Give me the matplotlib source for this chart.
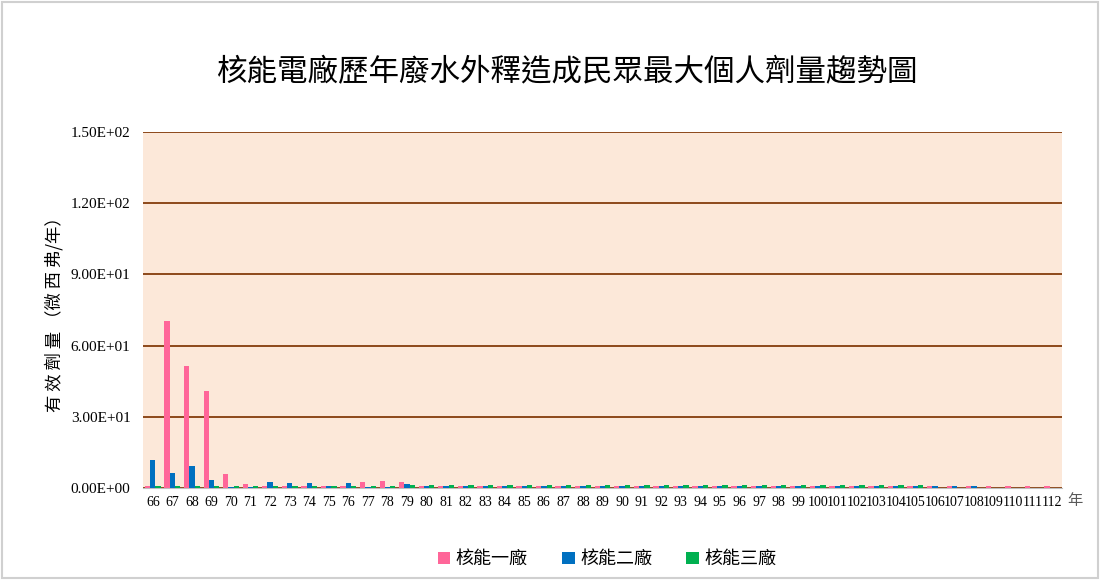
import numpy as np
import matplotlib.pyplot as plt
from matplotlib.patches import Rectangle
from matplotlib.ticker import FuncFormatter

plt.rcParams['font.family'] = ['Noto Sans CJK TC', 'DejaVu Sans']

# years (ROC calendar) 66 .. 112
years = [str(y) for y in range(66, 113)]

# plant 1 (pink)
plant1 = [1.0, 70.5, 51.6, 40.7, 5.9, 1.5, 0.8, 0.8, 0.8, 0.7, 0.8, 2.4, 2.8, 2.4, 0.8,
          0.8, 0.8, 0.8, 0.8, 0.8, 0.8, 0.8, 0.8, 0.8, 0.8, 0.8, 0.8, 0.8, 0.8, 0.8,
          0.8, 0.8, 0.8, 0.8, 0.8, 0.8, 0.8, 0.8, 0.8, 0.8, 0.8, 0.8, 0.8, 0.8, 0.8,
          0.8, 0.8]
# plant 2 (blue)
plant2 = [11.8, 6.5, 9.3, 3.5, 0.4, 0.6, 2.4, 2.0, 2.0, 0.7, 2.3, 0.6, 0.6, 1.7, 0.7,
          0.7, 0.7, 0.7, 0.7, 0.7, 0.7, 0.7, 0.7, 0.7, 0.7, 0.7, 0.7, 0.7, 0.7, 0.7,
          0.7, 0.7, 0.7, 0.7, 0.7, 0.7, 0.7, 0.7, 0.7, 0.7, 0.8, 0.8, 0.8, 0.0, 0.0,
          0.0, 0.0]
# plant 3 (green)
plant3 = [1.0, 1.0, 1.0, 1.0, 1.0, 1.0, 1.0, 1.0, 1.0, 1.0, 1.0, 1.0, 1.0, 1.2, 1.1,
          1.1, 1.1, 1.1, 1.1, 1.1, 1.1, 1.1, 1.1, 1.1, 1.1, 1.1, 1.1, 1.1, 1.1, 1.1,
          1.1, 1.1, 1.1, 1.1, 1.1, 1.1, 1.1, 1.1, 1.1, 1.1, 0.0, 0.0, 0.0, 0.0, 0.0,
          0.0, 0.0]

series_names = ['核能一廠', '核能二廠', '核能三廠']
colors = ['#FF6699', '#0070C0', '#00B050']

fig = plt.figure(figsize=(11, 5.8), dpi=100)
ax = fig.add_axes([0.13, 0.1586, 0.8355, 0.6138])
ax.set_facecolor('#FCE8D9')

x = np.arange(len(years))
w = 0.27
for i, (vals, name, c) in enumerate(zip([plant1, plant2, plant3], series_names, colors)):
    ax.bar(x + (i - 1) * w, vals, width=w, color=c, label=name, zorder=3)

ax.set_xlim(-0.5, len(years) - 0.5)
ax.set_ylim(0, 150)
ax.set_yticks(np.arange(0, 151, 30))
ax.yaxis.set_major_formatter(FuncFormatter(lambda v, p: ('%.2E' % v)))
ax.grid(axis='y', color='#843C0C', linewidth=1.3, zorder=1)
ax.set_axisbelow(True)
ax.set_xticks(x)
ax.set_xticklabels(years)

for lab in ax.get_yticklabels():
    lab.set_fontfamily('Liberation Serif')
    lab.set_fontsize(11)
for lab in ax.get_xticklabels():
    lab.set_fontfamily('Liberation Serif')
    lab.set_fontsize(10)
ax.tick_params(axis='y', length=0, pad=9)
ax.tick_params(axis='x', length=0, pad=6)

for s in ['top', 'right', 'left']:
    ax.spines[s].set_visible(False)
ax.spines['bottom'].set_color('#BFBFBF')

ax.set_ylabel('有 效 劑 量 （微 西 弗/年）', fontsize=12.5, labelpad=5)
ax.text(1.006, -0.035, '年', transform=ax.transAxes, fontsize=11, color='#595959',
        ha='left', va='center')

fig.text(0.515, 0.875, '核能電廠歷年廢水外釋造成民眾最大個人劑量趨勢圖',
         ha='center', va='center', fontsize=22)

ax.legend(loc='center', bbox_to_anchor=(0.505, -0.2), ncol=3, frameon=False,
          fontsize=13, handlelength=0.7, handleheight=0.7, columnspacing=1.9,
          handletextpad=0.3)

fig.patches.append(Rectangle((0.002, 0.003), 0.996, 0.994, transform=fig.transFigure,
                             fill=False, edgecolor='#D0D0D0', linewidth=1.5))

fig.savefig('out.png', dpi=100)
